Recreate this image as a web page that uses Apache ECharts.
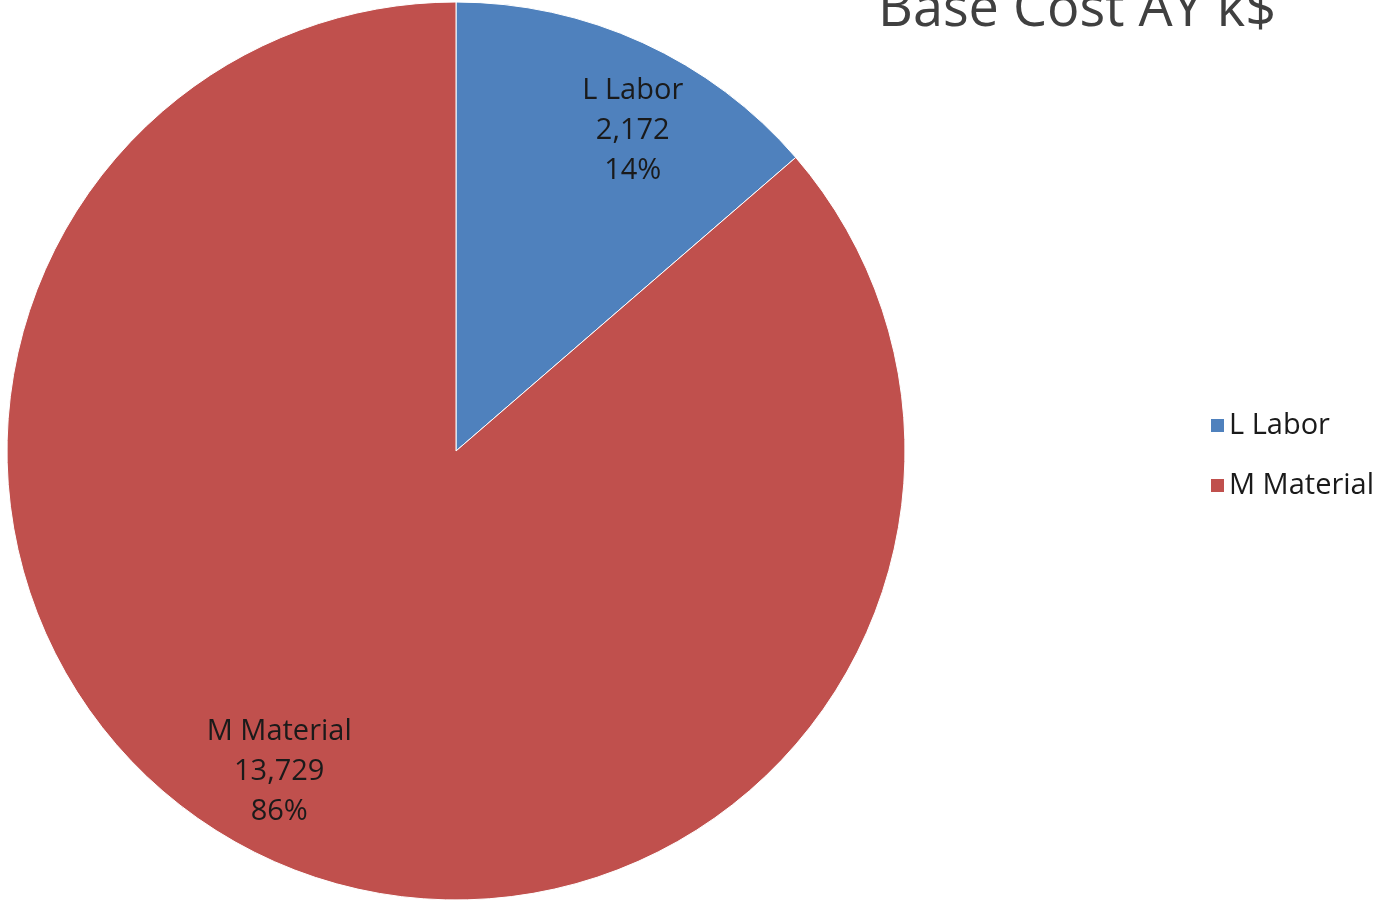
<!DOCTYPE html>
<html>
<head>
<meta charset="utf-8">
<title>Base Cost AY k$</title>
<script src="https://cdn.jsdelivr.net/npm/echarts@6/dist/echarts.min.js"></script>
<style>
  html, body { margin: 0; padding: 0; background: #ffffff; }
  #chart { width: 1377px; height: 904px; }
</style>
</head>
<body>
<div id="chart"></div>
<script>
// Cost breakdown, in k$
const categories = ['L Labor', 'M Material'];
const costs = [2172, 13729];
const sliceColors = ['#4F81BD', '#C0504D'];
const chartTitle = 'Base Cost AY k$';

const total = costs.reduce((a, b) => a + b, 0);
const center = [456, 451];
const radius = 449;

// Mid-angle of each slice, clockwise from 12 o'clock
const midAngles = [];
let acc = 0;
costs.forEach(v => {
  const start = acc / total * 2 * Math.PI;
  acc += v;
  const end = acc / total * 2 * Math.PI;
  midAngles.push((start + end) / 2);
});

// Data labels sit a little past the slice's mid-angle, near the rim
const labelAngleShift = 0.075;
const labelRadiusRatio = 0.815;

const fmt = n => n.toLocaleString('en-US');

const chart = echarts.init(document.getElementById('chart'), null, { renderer: 'canvas' });
chart.setOption({
  animation: false,
  color: sliceColors,
  title: {
    text: chartTitle,
    left: 873,
    top: -21,
    textStyle: {
      fontFamily: 'Open Sans',
      fontSize: 54,
      fontWeight: 'normal',
      color: '#404040'
    }
  },
  legend: {
    orient: 'vertical',
    left: 1204,
    top: 406,
    itemWidth: 15,
    itemHeight: 15,
    itemGap: 31,
    icon: 'rect',
    data: categories,
    textStyle: {
      fontFamily: 'Open Sans',
      fontSize: 29,
      color: '#1a1a1a',
      padding: [0, 0, 0, -1]
    }
  },
  series: [{
    type: 'pie',
    center: center,
    radius: [0, radius],
    startAngle: 90,
    clockwise: true,
    avoidLabelOverlap: false,
    itemStyle: { borderColor: '#ffffff', borderWidth: 1 },
    label: {
      show: true,
      position: 'inside',
      fontFamily: 'Open Sans',
      fontSize: 29,
      lineHeight: 40,
      color: '#1a1a1a',
      align: 'center',
      formatter: p => p.name + '\n' + fmt(p.value) + '\n' + Math.round(p.percent) + '%'
    },
    labelLayout: params => {
      const a = midAngles[params.dataIndex] + labelAngleShift;
      const d = radius * labelRadiusRatio;
      return {
        x: center[0] + Math.sin(a) * d,
        y: center[1] - Math.cos(a) * d,
        align: 'center',
        verticalAlign: 'middle'
      };
    },
    emphasis: { disabled: true },
    data: categories.map((c, i) => ({ name: c, value: costs[i] }))
  }]
});
</script>
</body>
</html>
